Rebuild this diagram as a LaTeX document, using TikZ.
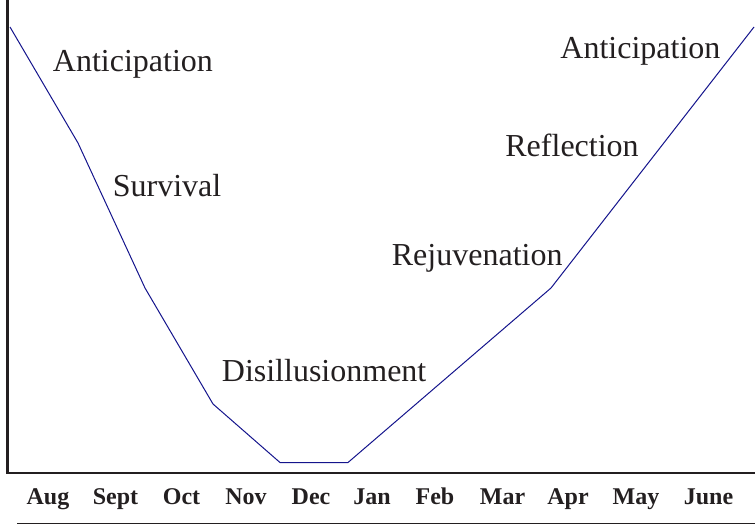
\documentclass[tikz,border=0pt]{standalone}
\usepackage{fontspec}
\setmainfont{Liberation Serif}
\usetikzlibrary{calc}

\definecolor{curveblue}{RGB}{20,20,140}
\definecolor{inkgray}{RGB}{35,31,32}

\tikzset{
    phase/.style={anchor=base west,inner sep=0pt,text=inkgray,font=\fontsize{16}{19}\selectfont},
    month/.style={anchor=base,inner sep=0pt,text=inkgray,font=\fontsize{12}{14}\selectfont\bfseries},
    axisline/.style={draw=inkgray,line width=1.4pt},
}

\begin{document}
\begin{tikzpicture}[x=0.5pt,y=-0.5pt]
                        \useasboundingbox (0,0) rectangle (755,525);
                        % axes
                        \coordinate (top) at (7.3,0);
                        \coordinate (origin) at (7.3,473);
                        \coordinate (xend) at (755,473);
                        \draw[axisline] (top) -- (origin) -- (xend);
                        \coordinate (rulestart) at (17,523.5);
                        \coordinate (ruleend) at (755,523.5);
                        \draw[draw=inkgray,line width=0.7pt] (rulestart) -- (ruleend);
                        % the curve
                        \coordinate (aug) at (10,27);
                        \coordinate (sept) at (78,143);
                        \coordinate (oct) at (145,288);
                        \coordinate (nov) at (213,404);
                        \coordinate (dec) at (280,462.5);
                        \coordinate (jan) at (348,462.5);
                        \coordinate (apr) at (551,288);
                        \coordinate (june) at (754,27);
                        \draw[curveblue,line width=0.5pt,line join=round]
                            (aug) -- (sept) -- (oct) -- (nov) -- (dec) -- (jan) -- (apr) -- (june);
                        % phases
                        \node[phase] (antic1) at (52.5,71.5) {Anticipation};
                        \node[phase] (surv) at (112.5,196.5) {Survival};
                        \node[phase] (disil) at (221.5,381.5) {Disillusionment};
                        \node[phase] (rejuv) at (391.5,265) {Rejuvenation};
                        \node[phase] (refl) at (505,156.5) {Reflection};
                        \node[phase] (antic2) at (560,58.5) {Anticipation};
                        % months
                        \foreach \m/\x in {Aug/48,Sept/115.5,Oct/181.5,Nov/246,Dec/311,Jan/372,
                                           Feb/435,Mar/502.5,Apr/568,May/636,June/708.5}
                            \node[month] (m\m) at (\x,504) {\m};
                    \end{tikzpicture}
\end{document}
